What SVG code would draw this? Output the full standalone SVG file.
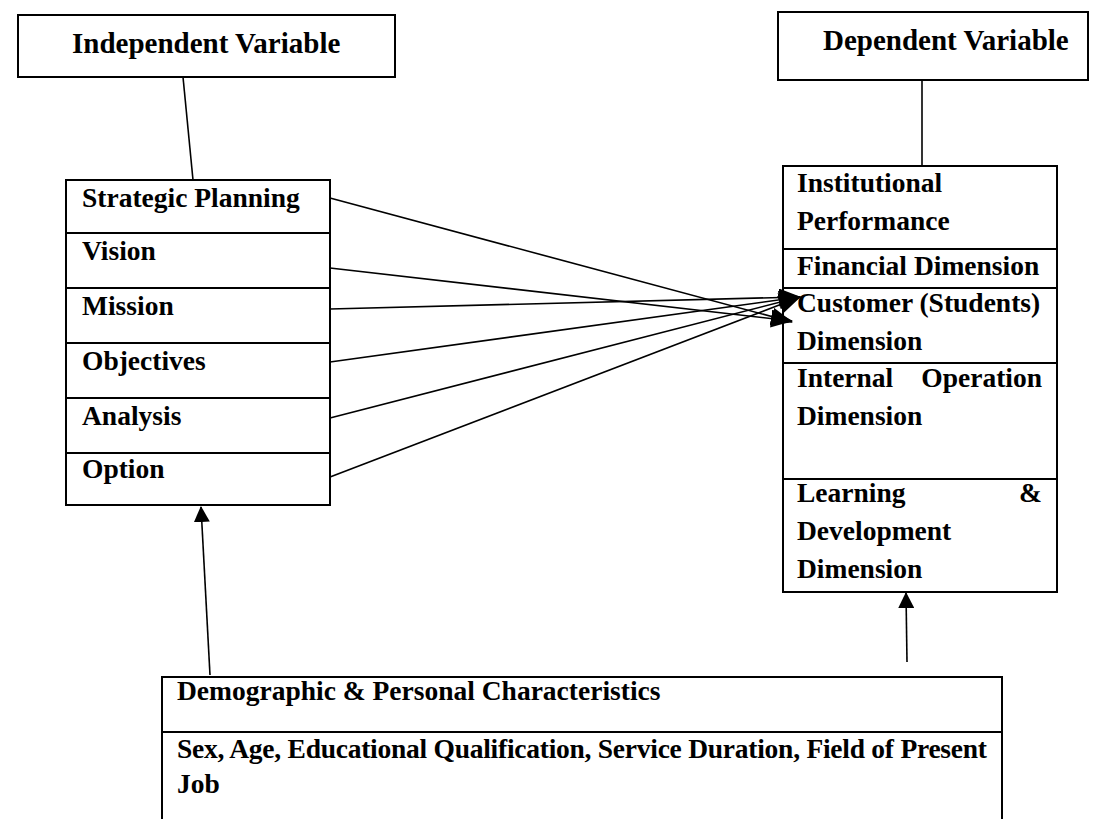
<svg xmlns="http://www.w3.org/2000/svg" width="1102" height="819" viewBox="0 0 1102 819">
  <style>
    .box { fill: #fff; stroke: #000; stroke-width: 2; }
    .div { stroke: #000; stroke-width: 2; }
    .lbl { font-family: "Liberation Serif", "Times New Roman", serif; font-weight: bold; font-size: 27.5px; fill: #000; }
    .ttl { font-size: 29px; }
    .conn line { stroke: #000; stroke-width: 1.6; fill: none; }
    .arr { marker-end: url(#head); }
    .arr-big { marker-end: url(#head-big); }
  </style>
  <defs>
    <marker id="head" markerUnits="userSpaceOnUse" markerWidth="16" markerHeight="16" refX="15" refY="8" orient="auto">
      <path d="M0,0 L16,8 L0,16 z" fill="#000"/>
    </marker>
    <marker id="head-big" markerUnits="userSpaceOnUse" markerWidth="22" markerHeight="18" refX="21" refY="9" orient="auto">
      <path d="M0,0 L22,9 L0,18 z" fill="#000"/>
    </marker>
  </defs>
  <rect width="1102" height="819" fill="#fff"/>

  <!-- header boxes -->
  <g id="independent-variable">
    <rect class="box" x="18" y="15" width="377" height="62"/>
    <text class="lbl ttl" x="72" y="53">Independent Variable</text>
  </g>
  <g id="dependent-variable">
    <rect class="box" x="778" y="12" width="310" height="68"/>
    <text class="lbl ttl" x="823" y="50">Dependent Variable</text>
  </g>

  <!-- strategic planning list -->
  <g id="strategic-planning">
    <rect class="box" x="66" y="180" width="264" height="325"/>
    <line class="div" x1="66" y1="233" x2="330" y2="233"/>
    <line class="div" x1="66" y1="288" x2="330" y2="288"/>
    <line class="div" x1="66" y1="343" x2="330" y2="343"/>
    <line class="div" x1="66" y1="398" x2="330" y2="398"/>
    <line class="div" x1="66" y1="453" x2="330" y2="453"/>
    <text class="lbl" x="82" y="207">Strategic Planning</text>
    <text class="lbl" x="82" y="260">Vision</text>
    <text class="lbl" x="82" y="315">Mission</text>
    <text class="lbl" x="82" y="370">Objectives</text>
    <text class="lbl" x="82" y="425">Analysis</text>
    <text class="lbl" x="82" y="478">Option</text>
  </g>

  <!-- institutional performance list -->
  <g id="institutional-performance">
    <rect class="box" x="783" y="166" width="274" height="426"/>
    <line class="div" x1="783" y1="249" x2="1057" y2="249"/>
    <line class="div" x1="783" y1="288" x2="1057" y2="288"/>
    <line class="div" x1="783" y1="363" x2="1057" y2="363"/>
    <line class="div" x1="783" y1="479" x2="1057" y2="479"/>
    <text class="lbl" x="797" y="192">Institutional</text>
    <text class="lbl" x="797" y="230">Performance</text>
    <text class="lbl" x="797" y="275">Financial Dimension</text>
    <text class="lbl" x="797" y="312">Customer (Students)</text>
    <text class="lbl" x="797" y="350">Dimension</text>
    <text class="lbl" y="387"><tspan x="797">Internal</tspan><tspan x="1042" text-anchor="end">Operation</tspan></text>
    <text class="lbl" x="797" y="425">Dimension</text>
    <text class="lbl" y="502"><tspan x="797">Learning</tspan><tspan x="1042" text-anchor="end">&amp;</tspan></text>
    <text class="lbl" x="797" y="540">Development</text>
    <text class="lbl" x="797" y="578">Dimension</text>
  </g>

  <!-- demographic characteristics -->
  <g id="demographics">
    <rect class="box" x="162" y="677" width="840" height="160"/>
    <line class="div" x1="162" y1="732" x2="1002" y2="732"/>
    <text class="lbl" x="177" y="700">Demographic &amp; Personal Characteristics</text>
    <text class="lbl" x="177" y="758" textLength="810" lengthAdjust="spacing">Sex, Age, Educational Qualification, Service Duration, Field of Present</text>
    <text class="lbl" x="177" y="793">Job</text>
  </g>

  <!-- connectors -->
  <g id="connectors" class="conn">
    <line x1="183" y1="77" x2="193" y2="180"/>
    <line x1="922" y1="80" x2="922" y2="166"/>
    <line class="arr-big" x1="330" y1="198" x2="792" y2="322"/>
    <line class="arr-big" x1="330" y1="268" x2="792" y2="321"/>
    <line class="arr-big" x1="330" y1="309" x2="800" y2="297"/>
    <line class="arr-big" x1="330" y1="362" x2="800" y2="297"/>
    <line class="arr-big" x1="330" y1="418" x2="800" y2="297"/>
    <line class="arr-big" x1="330" y1="477" x2="800" y2="297"/>
    <line class="arr" x1="210" y1="675" x2="201" y2="507"/>
    <line class="arr" x1="907" y1="662" x2="906" y2="593"/>
  </g>
</svg>
